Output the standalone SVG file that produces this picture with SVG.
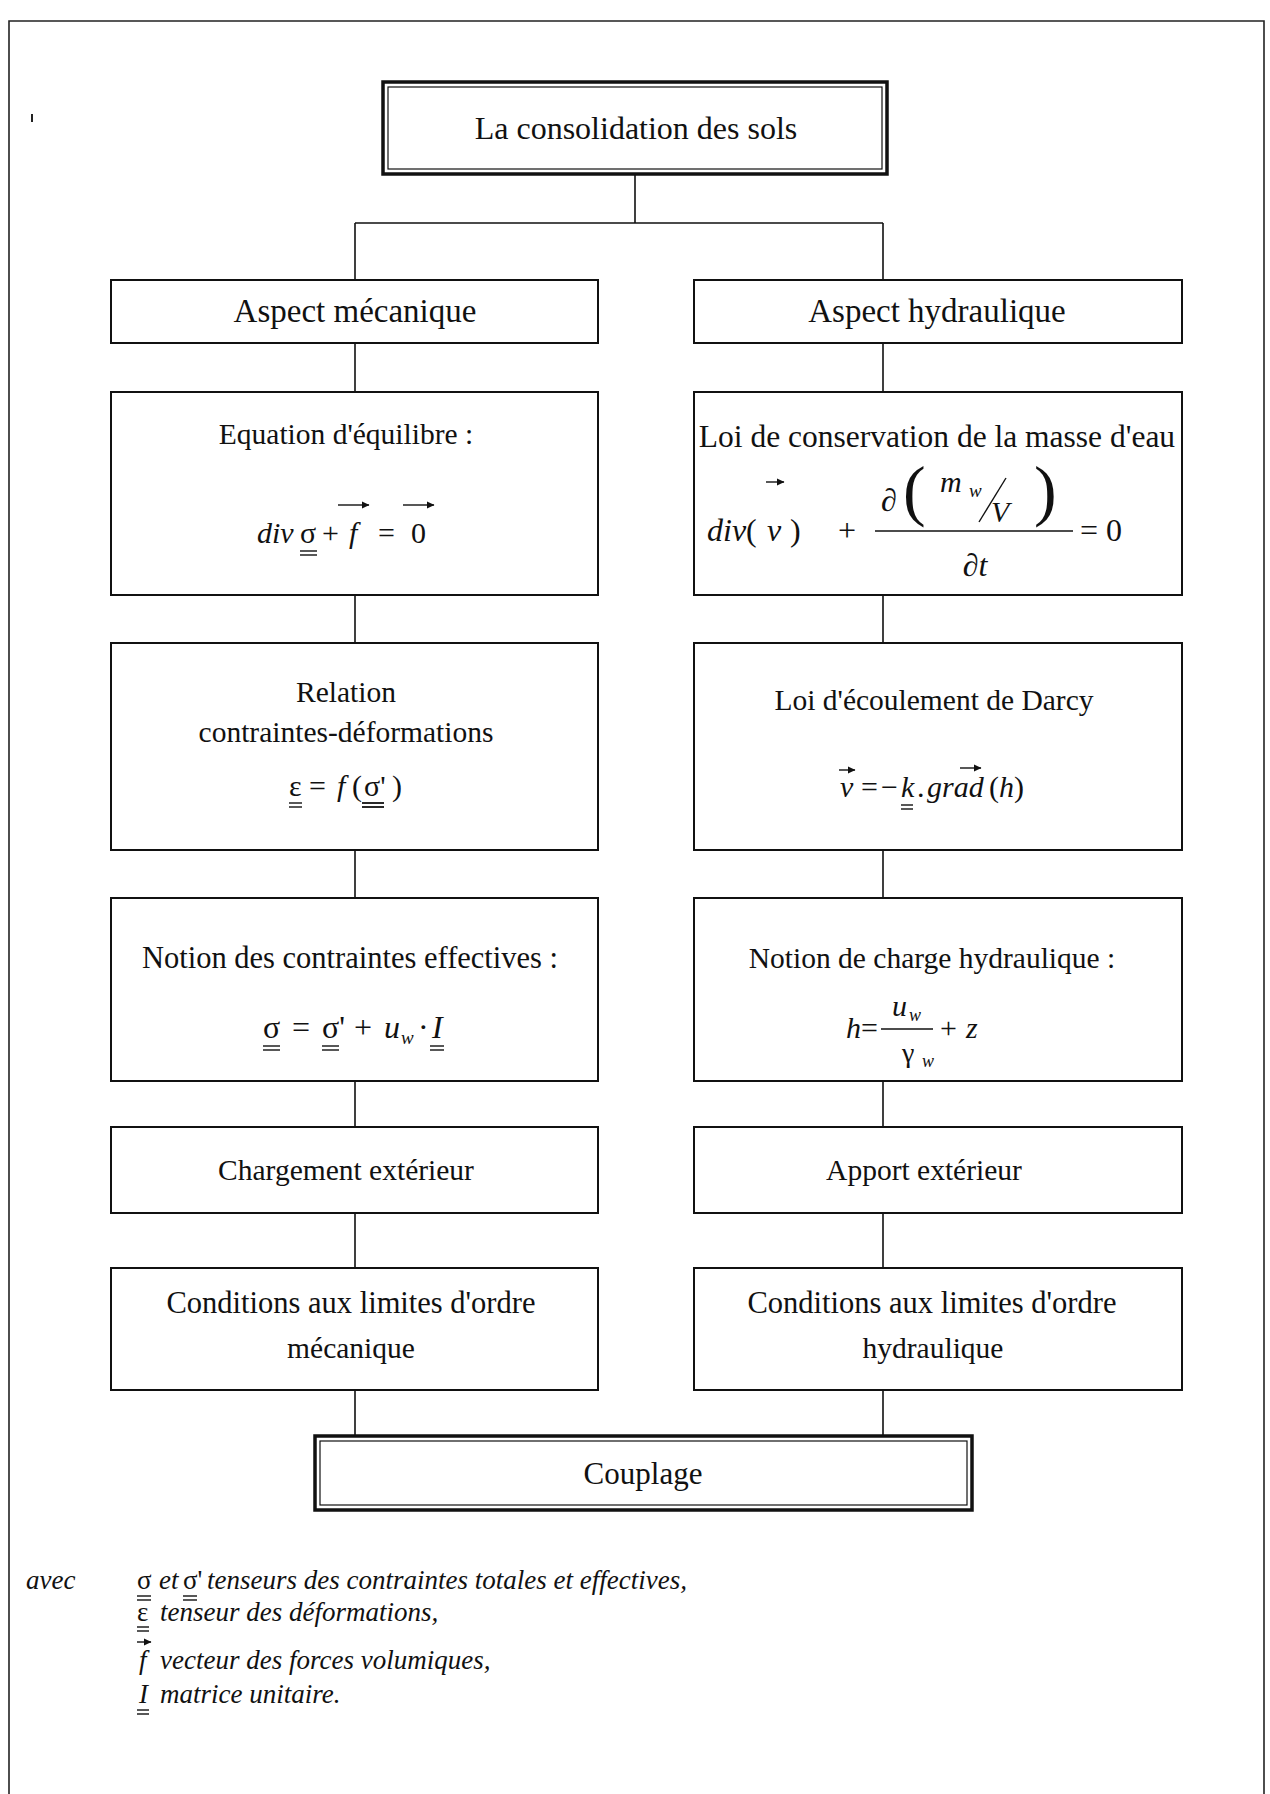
<svg xmlns="http://www.w3.org/2000/svg" width="1270" height="1794" viewBox="0 0 1270 1794">
<defs>
<marker id="vec" markerWidth="8" markerHeight="8" refX="7" refY="4" orient="auto" markerUnits="userSpaceOnUse">
<path d="M0,0.5 L7.5,4 L0,7.5 Z" fill="#111"/>
</marker>
<style>
.box{fill:#fff;stroke:#111;stroke-width:2}
.dbo{fill:#fff;stroke:#111;stroke-width:3.5}
.dbi{fill:none;stroke:#111;stroke-width:1.2}
.t{font-family:"Liberation Serif","Times New Roman",serif;font-size:29.5px;fill:#111}
.m{font-family:"Liberation Serif","Times New Roman",serif;font-size:30px;fill:#111}
.lg{font-family:"Liberation Serif","Times New Roman",serif;font-size:27px;fill:#111}
.c{text-anchor:middle}
.i{font-style:italic}
.conn{stroke:#111;stroke-width:1.6;fill:none}
.ul{stroke:#111;stroke-width:1.4}
.ar{stroke:#111;stroke-width:1.4;fill:none;marker-end:url(#vec)}
.frame{stroke:#222;stroke-width:1.6;fill:none}
</style>
</defs>
<rect x="0" y="0" width="1270" height="1794" fill="#fff"/>
<path class="frame" d="M9,1794 V21 H1264 V1794"/>
<line x1="32" y1="114" x2="32" y2="122" stroke="#222" stroke-width="2"/>

<g id="connectors">
<path class="conn" d="M635,174 V223 M355,223 H883 M355,223 V280 M883,223 V280"/>
<path class="conn" d="M355,343 V392 M355,595 V643 M355,850 V898 M355,1081 V1127 M355,1213 V1268 M355,1390 V1436"/>
<path class="conn" d="M883,343 V392 M883,595 V643 M883,850 V898 M883,1081 V1127 M883,1213 V1268 M883,1390 V1436"/>
</g>

<g id="title">
<rect class="dbo" x="383" y="82" width="504" height="92"/>
<rect class="dbi" x="388" y="87" width="494" height="82"/>
<text class="t c" x="636" y="139" style="font-size:32px">La consolidation des sols</text>
</g>

<g id="aspect-meca">
<rect class="box" x="111" y="280" width="487" height="63"/>
<text class="t c" x="355" y="322" style="font-size:33px">Aspect mécanique</text>
</g>
<g id="aspect-hydro">
<rect class="box" x="694" y="280" width="488" height="63"/>
<text class="t c" x="937" y="322" style="font-size:33px">Aspect hydraulique</text>
</g>

<g id="equilibre">
<rect class="box" x="111" y="392" width="487" height="203"/>
<text class="t c" x="346" y="444">Equation d'équilibre :</text>
<text class="m i" x="257" y="543">div</text>
<text class="m" x="300" y="543">σ</text>
<line class="ul" x1="300" y1="551" x2="317" y2="551"/>
<line class="ul" x1="300" y1="555" x2="317" y2="555"/>
<text class="m" x="322" y="543">+</text>
<text class="m i" x="349" y="543">f</text>
<line class="ar" x1="338" y1="505" x2="369" y2="505"/>
<text class="m" x="378" y="543">=</text>
<text class="m" x="411" y="543">0</text>
<line class="ar" x1="403" y1="505" x2="434" y2="505"/>
</g>

<g id="conservation">
<rect class="box" x="694" y="392" width="488" height="203"/>
<text class="t c" x="937" y="447" style="font-size:31.5px">Loi de conservation de la masse d'eau</text>
<text class="m" x="707" y="541" style="font-size:32px"><tspan class="i">div</tspan>(</text>
<text class="m i" x="767" y="541" style="font-size:32px">v</text>
<line class="ar" x1="766" y1="482" x2="784" y2="482"/>
<text class="m" x="790" y="541" style="font-size:32px">)</text>
<text class="m" x="838" y="541" style="font-size:32px">+</text>
<line class="ul" x1="875" y1="531" x2="1073" y2="531"/>
<text class="m" x="881" y="511" style="font-size:32px">∂</text>
<text class="m" x="903" y="513" style="font-size:68px">(</text>
<text class="m i" x="940" y="492" style="font-size:30px">m</text>
<text class="m i" x="969" y="497" style="font-size:19px">w</text>
<line class="ul" x1="979" y1="522" x2="1006" y2="478"/>
<text class="m i" x="991" y="522" style="font-size:30px">V</text>
<text class="m" x="1034" y="513" style="font-size:68px">)</text>
<text class="m c" x="975" y="576" style="font-size:32px">∂<tspan class="i">t</tspan></text>
<text class="m" x="1080" y="541" style="font-size:32px">=</text>
<text class="m" x="1106" y="541" style="font-size:32px">0</text>
</g>

<g id="relation">
<rect class="box" x="111" y="643" width="487" height="207"/>
<text class="t c" x="346" y="702">Relation</text>
<text class="t c" x="346" y="742">contraintes-déformations</text>
<text class="m" x="289" y="796">ε</text>
<line class="ul" x1="289" y1="803" x2="302" y2="803"/>
<line class="ul" x1="289" y1="807" x2="302" y2="807"/>
<text class="m" x="309" y="796">=</text>
<text class="m i" x="337" y="796">f</text>
<text class="m" x="352" y="796">(</text>
<text class="m" x="364" y="796">σ'</text>
<line class="ul" x1="362" y1="803" x2="384" y2="803" style="stroke-width:1.8"/>
<line class="ul" x1="362" y1="807" x2="384" y2="807" style="stroke-width:1.8"/>
<text class="m" x="392" y="796">)</text>
</g>

<g id="darcy">
<rect class="box" x="694" y="643" width="488" height="207"/>
<text class="t c" x="934" y="710">Loi d'écoulement de Darcy</text>
<text class="m i" x="840" y="797">v</text>
<line class="ar" x1="839" y1="770" x2="855" y2="770"/>
<text class="m" x="861" y="797">=</text>
<text class="m" x="881" y="797">−</text>
<text class="m i" x="901" y="797">k</text>
<line class="ul" x1="901" y1="805" x2="913" y2="805"/>
<line class="ul" x1="901" y1="809" x2="913" y2="809"/>
<text class="m" x="917" y="797">.</text>
<text class="m i" x="927" y="797">grad</text>
<line class="ar" x1="960" y1="768" x2="981" y2="768"/>
<text class="m" x="989" y="797">(<tspan class="i">h</tspan>)</text>
</g>

<g id="contraintes-effectives">
<rect class="box" x="111" y="898" width="487" height="183"/>
<text class="t c" x="350" y="968" style="font-size:30.5px">Notion des contraintes effectives :</text>
<text class="m" x="263" y="1038" style="font-size:32px">σ</text>
<line class="ul" x1="263" y1="1046" x2="280" y2="1046"/>
<line class="ul" x1="263" y1="1050" x2="280" y2="1050"/>
<text class="m" x="292" y="1038" style="font-size:32px">=</text>
<text class="m" x="322" y="1038" style="font-size:32px">σ'</text>
<line class="ul" x1="322" y1="1046" x2="339" y2="1046"/>
<line class="ul" x1="322" y1="1050" x2="339" y2="1050"/>
<text class="m" x="354" y="1038" style="font-size:32px">+</text>
<text class="m i" x="384" y="1038" style="font-size:32px">u</text>
<text class="m i" x="401" y="1044" style="font-size:19px">w</text>
<text class="m" x="418" y="1038" style="font-size:32px">·</text>
<text class="m i" x="432" y="1038" style="font-size:32px">I</text>
<line class="ul" x1="430" y1="1046" x2="444" y2="1046"/>
<line class="ul" x1="430" y1="1050" x2="444" y2="1050"/>
</g>

<g id="charge-hydraulique">
<rect class="box" x="694" y="898" width="488" height="183"/>
<text class="t c" x="932" y="968">Notion de charge hydraulique :</text>
<text class="m i" x="846" y="1038">h</text>
<text class="m" x="861" y="1038">=</text>
<line class="ul" x1="881" y1="1029" x2="933" y2="1029"/>
<text class="m i" x="892" y="1016">u</text>
<text class="m i" x="909" y="1021" style="font-size:18px">w</text>
<text class="m" x="902" y="1062" style="font-size:28px">γ</text>
<text class="m i" x="922" y="1067" style="font-size:18px">w</text>
<text class="m" x="940" y="1038">+</text>
<text class="m i" x="966" y="1038">z</text>
</g>

<g id="chargement">
<rect class="box" x="111" y="1127" width="487" height="86"/>
<text class="t c" x="346" y="1180">Chargement extérieur</text>
</g>
<g id="apport">
<rect class="box" x="694" y="1127" width="488" height="86"/>
<text class="t c" x="924" y="1180">Apport extérieur</text>
</g>

<g id="conditions-meca">
<rect class="box" x="111" y="1268" width="487" height="122"/>
<text class="t c" x="351" y="1313" style="font-size:30.5px">Conditions aux limites d'ordre</text>
<text class="t c" x="351" y="1358">mécanique</text>
</g>
<g id="conditions-hydro">
<rect class="box" x="694" y="1268" width="488" height="122"/>
<text class="t c" x="932" y="1313" style="font-size:30.5px">Conditions aux limites d'ordre</text>
<text class="t c" x="933" y="1358">hydraulique</text>
</g>

<g id="couplage">
<rect class="dbo" x="315" y="1436" width="657" height="74"/>
<rect class="dbi" x="320" y="1441" width="647" height="64"/>
<text class="t c" x="643" y="1484" style="font-size:31px">Couplage</text>
</g>

<g id="legend">
<text class="lg i" x="26" y="1589">avec</text>
<text class="lg" x="137" y="1589">σ</text>
<line class="ul" x1="137" y1="1596" x2="151" y2="1596"/>
<line class="ul" x1="137" y1="1600" x2="151" y2="1600"/>
<text class="lg i" x="159" y="1589">et</text>
<text class="lg" x="183" y="1589">σ'</text>
<line class="ul" x1="183" y1="1596" x2="197" y2="1596"/>
<line class="ul" x1="183" y1="1600" x2="197" y2="1600"/>
<text class="lg i" x="207" y="1589">tenseurs des contraintes totales et effectives,</text>
<text class="lg" x="137" y="1621">ε</text>
<line class="ul" x1="137" y1="1627" x2="149" y2="1627"/>
<line class="ul" x1="137" y1="1631" x2="149" y2="1631"/>
<text class="lg i" x="160" y="1621">tenseur des déformations,</text>
<line class="ar" x1="137" y1="1642" x2="151" y2="1642"/>
<text class="lg i" x="139" y="1669">f</text>
<text class="lg i" x="160" y="1669">vecteur des forces volumiques,</text>
<text class="lg i" x="139" y="1703">I</text>
<line class="ul" x1="137" y1="1710" x2="149" y2="1710"/>
<line class="ul" x1="137" y1="1714" x2="149" y2="1714"/>
<text class="lg i" x="160" y="1703">matrice unitaire.</text>
</g>
</svg>
